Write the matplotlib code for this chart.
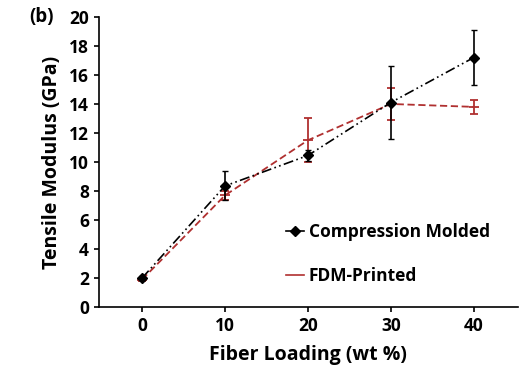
import matplotlib
matplotlib.use("Agg")
import matplotlib.pyplot as plt
from matplotlib.lines import Line2D

fiber = [0, 10, 20, 30, 40]
cm_mean = [2.0, 8.35, 10.45, 14.1, 17.2]
cm_err = [0.15, 1.0, 0.4, 2.5, 1.9]
fdm_mean = [1.9, 7.7, 11.5, 14.0, 13.8]
fdm_err = [0.1, 0.3, 1.5, 1.1, 0.5]
xticks = [0, 10, 20, 30, 40]
yticks = [0, 2, 4, 6, 8, 10, 12, 14, 16, 18, 20]

plt.rcParams['font.family'] = ['Open Sans', 'DejaVu Sans']
plt.rcParams['font.weight'] = 'bold'

fig = plt.figure(figsize=(5.23, 3.67), dpi=100)
ax = fig.add_axes([0.189, 0.163, 0.801, 0.791])

red = '#b03030'
ax.errorbar(fiber, fdm_mean, yerr=fdm_err, color=red, ls=(0, (4, 2)), lw=1.3,
            marker='_', ms=7, mew=1.3, capsize=3, elinewidth=1.3,
            label='FDM-Printed', zorder=2)
ax.errorbar(fiber, cm_mean, yerr=cm_err, color='black', ls=(0, (6, 2, 1, 2, 1, 2)), lw=1.2,
            marker='D', ms=5.5, capsize=2, elinewidth=1.2,
            label='Compression Molded', zorder=3)

ax.set_xlim(-5.2, 45.3)
ax.set_ylim(0, 20)
ax.set_xticks(xticks)
ax.set_yticks(yticks)
ax.spines['top'].set_visible(False)
ax.spines['right'].set_visible(False)
ax.tick_params(labelsize=12.5, width=1.2, length=3.5)
for lab in ax.get_xticklabels() + ax.get_yticklabels():
    lab.set_fontweight('bold')
for s in ('left', 'bottom'):
    ax.spines[s].set_linewidth(1.2)

ax.set_xlabel('Fiber Loading (wt %)', fontsize=14, fontweight='bold', labelpad=7)
ax.set_ylabel('Tensile Modulus (GPa)', fontsize=14, fontweight='bold', labelpad=5)

h1 = Line2D([], [], color='black', marker='D', ms=5, lw=1.2)
h2 = Line2D([], [], color=red, lw=1.2)
ax.legend([h1, h2], ['Compression Molded', 'FDM-Printed'], loc='upper left',
          bbox_to_anchor=(0.41, 0.345), frameon=False,
          handlelength=1.0, handletextpad=0.3, labelspacing=1.5,
          prop={'weight': 'bold', 'size': 12.5})

fig.text(0.055, 0.953, '(b)', fontsize=13.5, fontweight='bold', va='center')

fig.savefig('out.png', dpi=100)
